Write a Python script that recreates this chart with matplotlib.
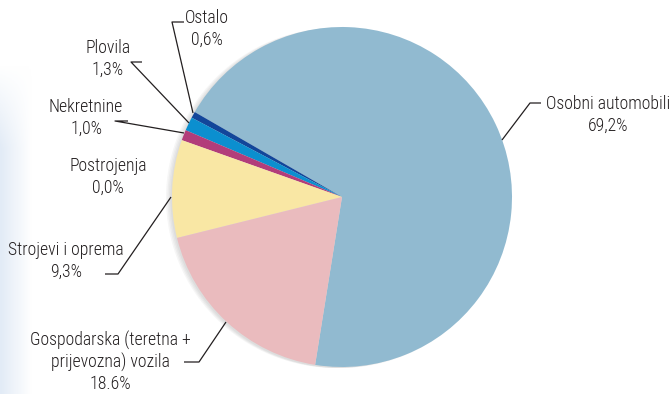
import numpy as np
import matplotlib
matplotlib.use("Agg")
import matplotlib.pyplot as plt
from matplotlib.colors import LinearSegmentedColormap

# --- data ---
labels = ["Osobni automobili", "Ostalo", "Plovila", "Nekretnine",
          "Postrojenja", "Strojevi i oprema", "Gospodarska (teretna +\nprijevozna) vozila"]
pct_text = ["69,2%", "0,6%", "1,3%", "1,0%", "0,0%", "9,3%", "18.6%"]
values = [69.2, 0.6, 1.3, 1.0, 0.0, 9.3, 18.6]
colors = ["#91bad0", "#12469a", "#0b8fcf", "#b23d7a", "#ffffff", "#f9e7a4", "#eabbbe"]

# ---------- layout (pixel coords, y from top) ----------
W, H = 671, 394
CX, CY, R = 342, 197, 170
# label centre, leader: tick start, tick end, tip on pie
label_xy = [(608, 115), (207, 29), (108, 59), (86, 118), (108, 177), (66, 261), (110, 362)]
leaders = [
    [(541, 103), (530, 103), (502, 140)],
    [(184, 22), (172, 22), (193, 113)],
    [(142, 62), (131, 62), (189, 123)],
    [(128, 121), (115, 121), (184, 133)],
    None,
    [(105, 274), (118, 274), (171, 197)],
    [(184, 362), (199, 362), (226, 322)],
]

plt.rcParams['font.family'] = ['Roboto Condensed', 'DejaVu Sans']

fig = plt.figure(figsize=(W / 100, H / 100), dpi=100)
ax = fig.add_axes([0, 0, 1, 1])

# faint bluish tint at left edge, fading out to the right and at the top
yy = np.linspace(0, 1, 100)[:, None]
grad = np.linspace(1, 0, 40)[None, :] * np.where(yy > 0.75, (1 - yy) / 0.25, 1)
ax.imshow(grad, extent=(0, 32, 0, 330), aspect="auto", zorder=0, origin="lower",
          cmap=LinearSegmentedColormap.from_list("g", ["#ffffff", "#e2ebf6"]))

# soft shadow on left of pie
for i in range(4):
    ax.add_patch(plt.Circle((CX - 1.5 - 1.5 * i, H - CY - 1), R, color="#666666",
                            alpha=0.06, lw=0, zorder=1))

ax.pie(values, colors=colors, startangle=-99.1, counterclock=True,
       center=(CX, H - CY), radius=R, frame=True,
       wedgeprops=dict(linewidth=0, zorder=2))
ax.set_xlim(0, W); ax.set_ylim(0, H)
ax.set_aspect("equal")
ax.axis("off")

for lab, pt, (lx, ly), ld in zip(labels, pct_text, label_xy, leaders):
    ls = 1.22 if "\n" in lab else 1.32
    ax.text(lx, H - ly, lab + "\n" + pt, ha="center", va="center", fontsize=12.8,
            fontweight="light", color="#231f20", linespacing=ls, zorder=5)
    if ld:
        xs = [p[0] for p in ld]
        ys = [H - p[1] for p in ld]
        ax.plot(xs, ys, color="#231f20", lw=0.9, zorder=4, solid_capstyle="butt")

fig.savefig("out.png", dpi=100)
